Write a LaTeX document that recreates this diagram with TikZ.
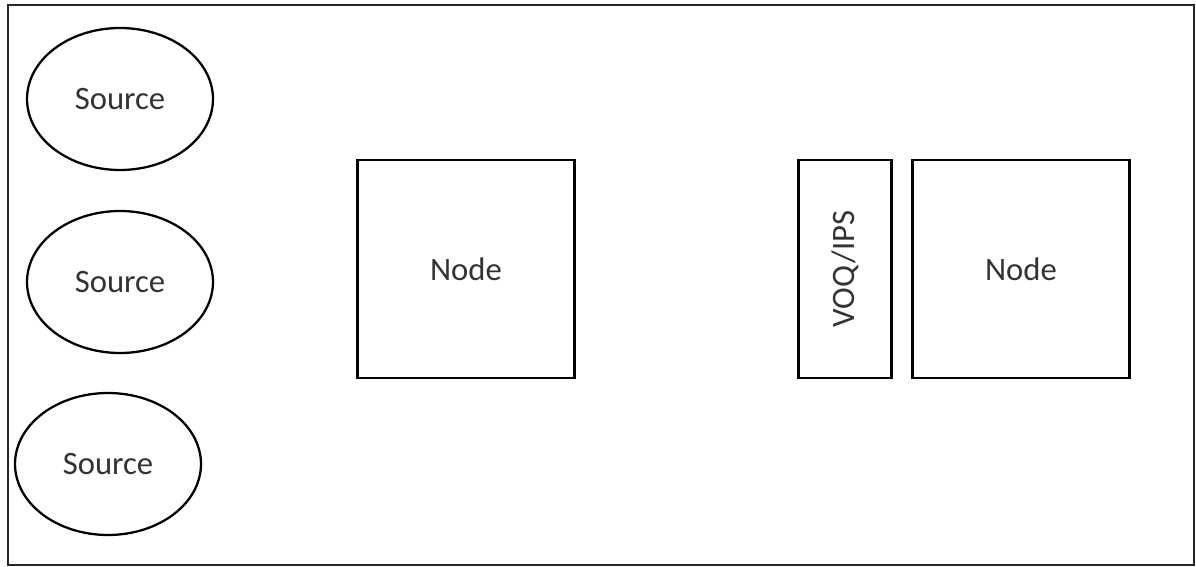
\documentclass[tikz,border=0pt]{standalone}
\usepackage{fontspec}
\setmainfont{Carlito}
\usepackage{tikz}
\usetikzlibrary{positioning,shapes.geometric}

\begin{document}
\begin{tikzpicture}[
  x=0.02cm, y=-0.02cm,
  every node/.style={font=\fontsize{18.6}{22}\selectfont, text=black!80},
  srcell/.style={ellipse, draw=black, line width=1.3pt, minimum width=3.72cm, minimum height=2.84cm, align=center},
  nodebox/.style={rectangle, draw=black, line width=1.4pt, minimum width=4.34cm, minimum height=4.36cm, align=center},
  queuebox/.style={rectangle, draw=black, line width=1.4pt, minimum width=1.86cm, minimum height=4.36cm, align=center}
]
  \useasboundingbox (0,0) rectangle (1196,567);
  \draw[line width=1.2pt, black!85] (8,5) rectangle (1194,565);

  \node[srcell] (src1) at (120,99) {Source};
  \node[srcell] (src2) at (120,282) {Source};
  \node[srcell] (src3) at (108,464) {Source};

  \node[nodebox] (node1) at (466,269) {Node};
  \node[queuebox] (voq) at (845,269) {};
  \node[rotate=90] (voqtext) at (voq.center) {VOQ/IPS};
  \node[nodebox] (node2) at (1021,269) {Node};
\end{tikzpicture}
\end{document}
